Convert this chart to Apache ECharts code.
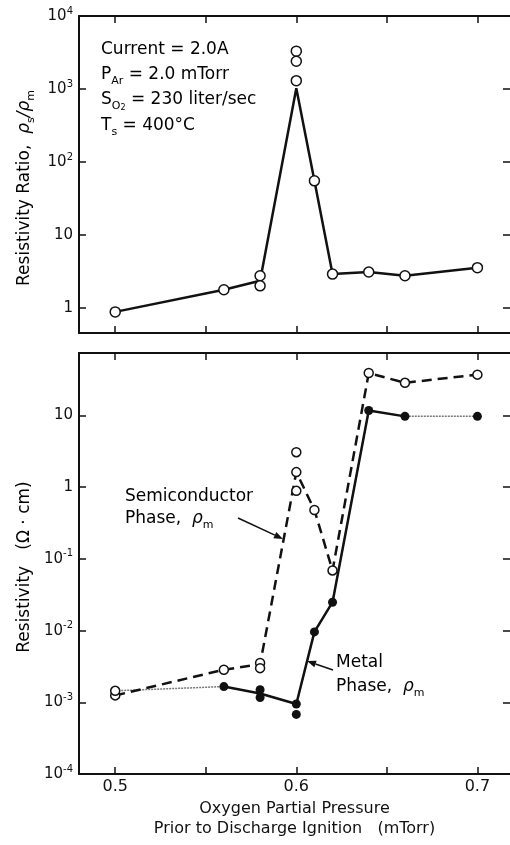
<!DOCTYPE html>
<html>
<head>
<meta charset="utf-8">
<script src="https://cdn.jsdelivr.net/npm/echarts@6.0.0/dist/echarts.min.js"></script>
<style>
  html, body { margin: 0; background: #fff; }
  #chart { width: 510px; height: 845px; }
</style>
</head>
<body>
<div id="chart"></div>
<script>
// top panel: resistivity ratio rho_s / rho_m (all measured points)
const ratioX = [0.5, 0.56, 0.58, 0.58, 0.6, 0.6, 0.6, 0.61, 0.62, 0.64, 0.66, 0.7]
const ratioY = [0.88, 1.77, 2.75, 2.0, 3300, 2400, 1300, 55, 2.9, 3.1, 2.75, 3.55]
// the drawn curve through them
const ratioLineX = [0.5, 0.56, 0.58, 0.6, 0.61, 0.62, 0.64, 0.66, 0.7]
const ratioLineY = [0.88, 1.77, 2.35, 1020, 55, 2.9, 3.1, 2.75, 3.55]

// bottom panel: semiconductor phase (open circles, dashed)
const semiX = [0.5, 0.5, 0.56, 0.58, 0.58, 0.6, 0.6, 0.6, 0.61, 0.62, 0.64, 0.66, 0.7]
const semiY = [1.25e-3, 1.45e-3, 2.85e-3, 3.55e-3, 3.0e-3, 3.07, 1.62, 0.89, 0.48, 0.069, 39, 28.5, 37]
const semiLineX = [0.5, 0.56, 0.58, 0.6, 0.61, 0.62, 0.64, 0.66, 0.7]
const semiLineY = [1.25e-3, 2.85e-3, 3.4e-3, 1.62, 0.48, 0.069, 39, 28.5, 37]

// bottom panel: metal phase (filled circles, solid)
const metalX = [0.56, 0.58, 0.58, 0.6, 0.6, 0.61, 0.62, 0.64, 0.66, 0.7]
const metalY = [1.66e-3, 1.5e-3, 1.17e-3, 0.95e-3, 0.68e-3, 9.6e-3, 0.0249, 11.7, 9.7, 9.7]
const metalLineX = [0.5, 0.56, 0.58, 0.6, 0.61, 0.62, 0.64, 0.66, 0.7]
const metalLineY = [1.45e-3, 1.66e-3, 1.33e-3, 0.95e-3, 9.6e-3, 0.0249, 11.7, 9.7, 9.7]

// axis ticks
const xTicks = [0.5, 0.55, 0.6, 0.65, 0.7]
const xLabels = [0.5, 0.6, 0.7]
const ratioDecades = [0, 1, 2, 3, 4]
const resDecades = [-4, -3, -2, -1, 0, 1]

const ink = '#111'
const font = 'DejaVu Sans'

const lg = v => Math.log10(v)
const pairs = (xs, ys) => xs.map((x, i) => [x, lg(ys[i])])

function decadeLabel(v) {
  const e = Math.round(v)
  if (e === 0) return '{b|1}'
  if (e === 1) return '{b|10}'
  return '{b|10}{s|' + e + '}'
}

const labelRich = {
  b: { fontFamily: font, fontSize: 15, color: ink, lineHeight: 20 },
  s: { fontFamily: font, fontSize: 10, color: ink, verticalAlign: 'top', lineHeight: 14 }
}

function xAxis(gridIndex, position, withLabels) {
  return {
    type: 'value',
    gridIndex: gridIndex,
    position: position,
    min: 0.48,
    max: 0.718,
    splitLine: { show: false },
    axisLine: { onZero: false, lineStyle: { color: ink, width: 2 } },
    axisTick: { inside: true, length: 7, customValues: xTicks, lineStyle: { color: ink, width: 1.5 } },
    axisLabel: withLabels
      ? { customValues: xLabels, margin: 5, fontFamily: font, fontSize: 16, color: ink, formatter: v => v.toFixed(1) }
      : { show: false }
  }
}

function yAxis(gridIndex, position, min, max, ticks) {
  const left = position === 'left'
  return {
    type: 'value',
    gridIndex: gridIndex,
    position: position,
    min: min,
    max: max,
    splitLine: { show: false },
    axisLine: { show: left, onZero: false, lineStyle: { color: ink, width: 2 } },
    axisTick: { inside: true, length: 7, customValues: ticks, lineStyle: { color: ink, width: 1.5 } },
    axisLabel: left
      ? { customValues: ticks, margin: 6, formatter: decadeLabel, rich: labelRich }
      : { show: false }
  }
}

const openDot = size => ({
  type: 'scatter', symbol: 'circle', symbolSize: size, z: 5,
  itemStyle: { color: '#fff', borderColor: ink, borderWidth: 1.5, opacity: 1 }
})

const rich17 = {
  a: { fontFamily: font, fontSize: 17, color: ink, lineHeight: 24 },
  i: { fontFamily: font, fontSize: 17, fontStyle: 'italic', color: ink, lineHeight: 24 },
  d: { fontFamily: font, fontSize: 11, color: ink, verticalAlign: 'bottom', lineHeight: 16 },
  dd: { fontFamily: font, fontSize: 8, color: ink, verticalAlign: 'bottom', lineHeight: 10 }
}

function label(x, y, text, extra) {
  return Object.assign({
    type: 'text', x: x, y: y,
    style: { text: text, rich: rich17, align: 'left', verticalAlign: 'middle' }
  }, extra || {})
}

function arrow(x1, y1, x2, y2) {
  const dx = x2 - x1, dy = y2 - y1
  const len = Math.sqrt(dx * dx + dy * dy)
  const ux = dx / len, uy = dy / len
  const bx = x2 - 9 * ux, by = y2 - 9 * uy
  return [
    { type: 'line', shape: { x1: x1, y1: y1, x2: bx, y2: by }, style: { stroke: ink, lineWidth: 1.5 } },
    { type: 'polygon', shape: { points: [[x2, y2], [bx - 3.5 * uy, by + 3.5 * ux], [bx + 3.5 * uy, by - 3.5 * ux]] }, style: { fill: ink } }
  ]
}

const chart = echarts.init(document.getElementById('chart'), null, { renderer: 'canvas' })

chart.setOption({
  backgroundColor: '#fff',
  animation: false,
  textStyle: { fontFamily: font },
  grid: [
    { left: 79, top: 16, width: 432, height: 317 },
    { left: 79, top: 353, width: 432, height: 424 }
  ],
  xAxis: [
    xAxis(0, 'bottom', false),
    xAxis(0, 'top', false),
    Object.assign(xAxis(1, 'bottom', true), {
      name: 'Oxygen Partial Pressure\nPrior to Discharge Ignition   (mTorr)',
      nameLocation: 'middle',
      nameGap: 25,
      nameTextStyle: { fontFamily: font, fontSize: 16, color: ink, lineHeight: 20, verticalAlign: 'top' }
    }),
    xAxis(1, 'top', false)
  ],
  yAxis: [
    yAxis(0, 'left', -0.345, 4, ratioDecades),
    yAxis(0, 'right', -0.345, 4, ratioDecades),
    yAxis(1, 'left', -4, 1.87, resDecades),
    yAxis(1, 'right', -4, 1.87, resDecades)
  ],
  series: [
    {
      type: 'line', xAxisIndex: 0, yAxisIndex: 0, showSymbol: false, z: 3,
      lineStyle: { color: ink, width: 2.5 },
      data: pairs(ratioLineX, ratioLineY)
    },
    Object.assign(openDot(10), { xAxisIndex: 0, yAxisIndex: 0, data: pairs(ratioX, ratioY) }),

    {
      type: 'line', xAxisIndex: 2, yAxisIndex: 2, showSymbol: false, z: 2,
      lineStyle: { color: '#777', width: 1.5, type: [2, 1] },
      data: pairs(metalLineX, metalLineY)
    },
    {
      type: 'line', xAxisIndex: 2, yAxisIndex: 2, showSymbol: false, z: 3,
      lineStyle: { color: ink, width: 2.5 },
      data: pairs(metalLineX.slice(1, 8), metalLineY.slice(1, 8))
    },
    {
      type: 'line', xAxisIndex: 2, yAxisIndex: 2, showSymbol: false, z: 3,
      lineStyle: { color: ink, width: 2.5, type: [10, 6] },
      data: pairs(semiLineX, semiLineY)
    },
    Object.assign(openDot(9), { xAxisIndex: 2, yAxisIndex: 2, data: pairs(semiX, semiY) }),
    {
      type: 'scatter', xAxisIndex: 2, yAxisIndex: 2, symbol: 'circle', symbolSize: 9, z: 5,
      itemStyle: { color: ink, opacity: 1 },
      data: pairs(metalX, metalY)
    }
  ],
  graphic: [
    label(25, 188, '', {
      rotation: Math.PI / 2,
      style: { text: '{a|Resistivity Ratio,  }{i|ρ}{d|s}{i|/ρ}{d|m}', rich: rich17, align: 'center', verticalAlign: 'middle' }
    }),
    label(25, 567, '', {
      rotation: Math.PI / 2,
      style: { text: '{a|Resistivity   (Ω · cm)}', rich: rich17, align: 'center', verticalAlign: 'middle' }
    }),
    label(101, 50, '{a|Current = 2.0A}'),
    label(101, 75, '{a|P}{d|Ar}{a| = 2.0 mTorr}'),
    label(101, 100, '{a|S}{d|O}{dd|2}{a| = 230 liter/sec}'),
    label(101, 126, '{a|T}{d|s}{a| = 400°C}'),
    label(125, 497, '{a|Semiconductor}'),
    label(125, 519, '{a|Phase,  }{i|ρ}{d|m}'),
    label(336, 663, '{a|Metal}'),
    label(336, 687, '{a|Phase,  }{i|ρ}{d|m}'),
    ...arrow(238, 518, 283, 539),
    ...arrow(333, 670, 307, 661)
  ]
})
</script>
</body>
</html>
